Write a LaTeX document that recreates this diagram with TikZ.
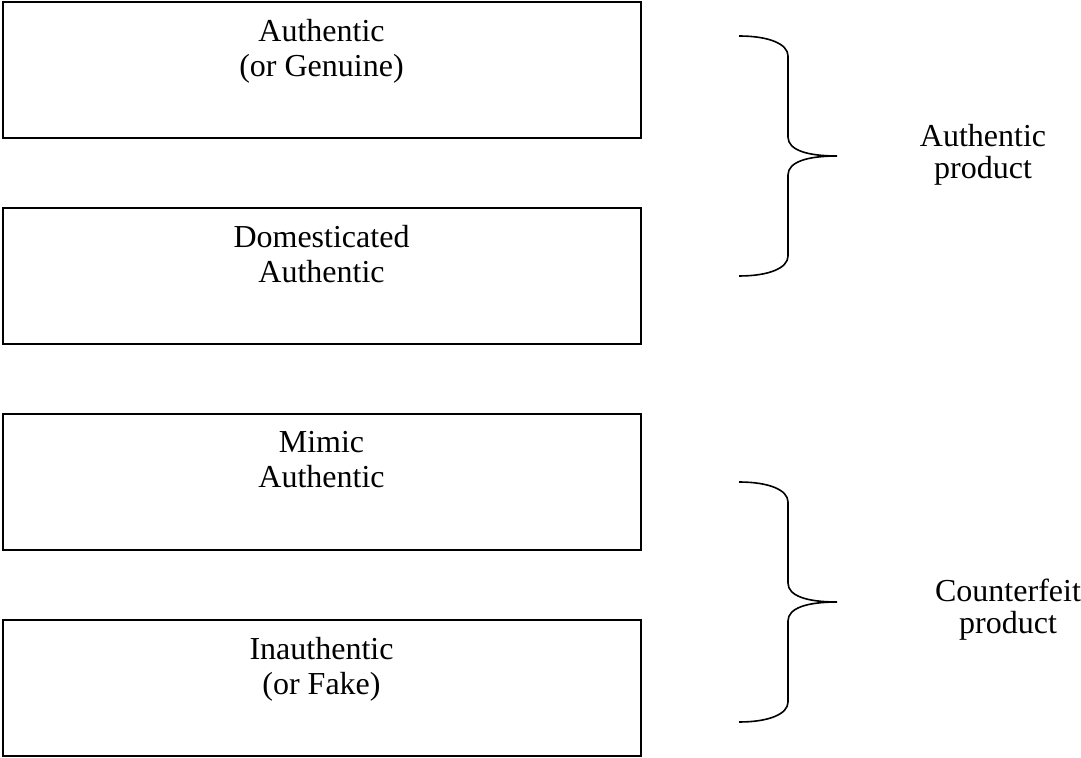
\documentclass[tikz,border=0pt]{standalone}
\usepackage{fontspec}
\setmainfont{Liberation Serif}
\usepackage{tikz}
\tikzset{catbox/.style={draw, line width=1pt, minimum width=319pt, minimum height=68pt, inner sep=0pt}}
\tikzset{cattext/.style={align=center, inner sep=0pt, font=\fontsize{16}{17.5}\selectfont}}
\tikzset{sidetext/.style={cattext, font=\fontsize{16}{16}\selectfont}}
\newcommand{\catbox}[3] {\node at (#1) (#2) [catbox] {}; \node at ([yshift=-9pt]#2.north) (#2text) [cattext, anchor=north] {#3};}
\newcommand{\catbrace}[2] {\coordinate (#2) at (#1); \draw [line width=0.8pt, shift={(#1)}] (-98,-120) .. controls (-68,-120) and (-49,-112) .. (-49,-100) -- (-49,-19) .. controls (-49,-6) and (-30,0) .. (0,0) .. controls (-30,0) and (-49,6) .. (-49,19) -- (-49,100) .. controls (-49,112) and (-68,120) .. (-98,120);}
\newcommand{\catlabel}[3] {\node at (#1) (#2) [sidetext] {#3};}

\begin{document}
\begin{tikzpicture}[x=0.5pt,y=-0.5pt]
\useasboundingbox (0,0) rectangle (1081,758);
\catbox {321.5,70} {genuine} {Authentic\\(or Genuine)};
\catbox {321.5,276} {domesticated} {Domesticated\\Authentic};
\catbox {321.5,482} {mimic} {Mimic\\Authentic};
\catbox {321.5,688} {fake} {Inauthentic\\(or Fake)};

\catbrace {837,156} {authtip};
\catbrace {837,602} {counttip};

\catlabel {983,155} {authproduct} {Authentic\\product};
\catlabel {1008,610} {countproduct} {Counterfeit\\product};
%\node at (540,740) {};
\end{tikzpicture}
\end{document}
